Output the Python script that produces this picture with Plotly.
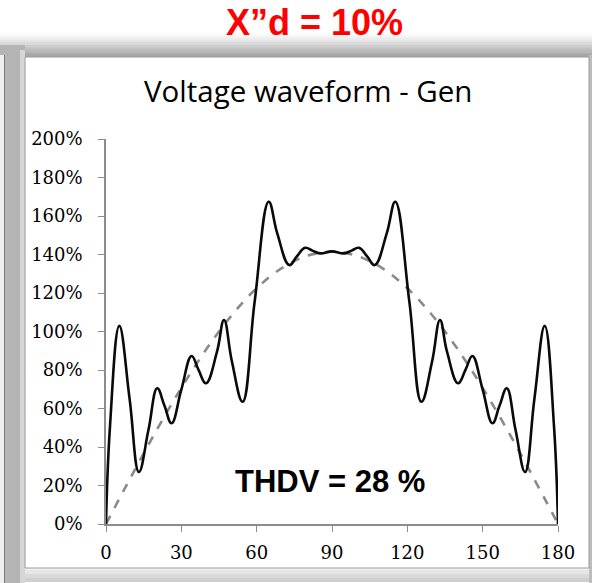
import plotly.graph_objects as go

# ---- data ----
wave_x = [0, 1.6, 5.3, 9.4, 13.1, 16.9, 20.4, 23.3, 26.1, 30.0, 34.1, 36.8, 39.8, 44.2, 47.0,
          50.1, 54.4, 59.2, 64.8, 68.2, 73.0, 76.0, 79.3, 82.2, 85.2, 90.0,
          94.8, 97.8, 100.7, 104.0, 107.0, 111.8, 115.2, 120.8, 125.6, 129.9, 133.0, 135.8,
          140.2, 143.2, 145.9, 150.0, 153.9, 156.7, 159.6, 163.1, 166.9, 170.6, 174.7, 178.4,
          180.0]
wave_y = [0, 51, 102.9, 65, 27, 48.8, 70.5, 61.4, 52.3, 69.8, 87.3, 80.2, 73.1, 89.5, 106,
          84.7, 63.5, 115.5, 167.4, 151, 134.5, 139, 143.5, 142, 140.6, 141.6,
          140.6, 142, 143.5, 139, 134.5, 151, 167.4, 115.5, 63.5, 84.7, 106, 89.5,
          73.1, 80.2, 87.3, 69.8, 52.3, 61.4, 70.5, 48.8, 27, 65, 102.9, 51,
          0]

ref_x = [0, 10, 20, 30, 40, 50, 60, 70, 80, 90, 100, 110, 120, 130, 140, 150, 160, 170, 180]
ref_y = [0, 24.6, 48.4, 70.7, 90.9, 108.3, 122.5, 132.9, 139.3, 141.4, 139.3, 132.9, 122.5,
         108.3, 90.9, 70.7, 48.4, 24.6, 0]

x_ticks = [0, 30, 60, 90, 120, 150, 180]
y_ticks = [0, 0.2, 0.4, 0.6, 0.8, 1.0, 1.2, 1.4, 1.6, 1.8, 2.0]

title_top = "X\u201dd = 10%"
chart_title = "Voltage waveform - Gen"
thd_label = "THDV = 28 %"

# ---- layout geometry ----
W, H = 592, 583
L, R, T, B = 106, 558, 139, 524


def px(x):
    return (x - L) / (R - L)


def py(y):
    return (B - y) / (B - T)


fig = go.Figure()
fig.add_trace(go.Scatter(x=ref_x, y=[v / 100 for v in ref_y], mode="lines",
                         line=dict(color="#8a8a8a", width=2.6, dash="dash", shape="spline"),
                         hoverinfo="skip", showlegend=False, cliponaxis=False))
fig.add_trace(go.Scatter(x=wave_x, y=[v / 100 for v in wave_y], mode="lines",
                         line=dict(color="#0a0a0a", width=2.6, shape="spline", smoothing=1.2),
                         showlegend=False, cliponaxis=False))

shapes = []
# top shadow gradient
grads = ["#fbfbfb", "#f4f4f4", "#ececec", "#e2e2e2", "#d8d8d8", "#cdcdcd", "#c2c2c2", "#b8b8b8", "#adadad", "#a4a4a4"]
y0 = 33
for i, c in enumerate(grads):
    shapes.append(dict(type="rect", xref="paper", yref="paper", layer="below",
                       x0=px(0), x1=px(W), y0=py(y0 + i * 2.4), y1=py(y0 + (i + 1) * 2.4 + 0.5),
                       fillcolor=c, line=dict(width=0)))
# left strip
shapes.append(dict(type="rect", xref="paper", yref="paper", layer="below",
                   x0=px(0), x1=px(25), y0=py(45), y1=py(H), fillcolor="#b4b4b4", line=dict(width=0)))
shapes.append(dict(type="rect", xref="paper", yref="paper", layer="below",
                   x0=px(0), x1=px(4), y0=py(55), y1=py(H), fillcolor="#efefef", line=dict(width=0)))
shapes.append(dict(type="rect", xref="paper", yref="paper", layer="below",
                   x0=px(4), x1=px(5), y0=py(55), y1=py(H), fillcolor="#7a7a7a", line=dict(width=0)))
shapes.append(dict(type="rect", xref="paper", yref="paper", layer="below",
                   x0=px(20), x1=px(25), y0=py(50), y1=py(H), fillcolor="#d6d6d6", line=dict(width=0)))
# bottom strip
for i, c in enumerate(["#f2f2f2", "#e6e6e6", "#dadada", "#cfcfcf"]):
    shapes.append(dict(type="rect", xref="paper", yref="paper", layer="below",
                       x0=px(25), x1=px(W), y0=py(566 + i * 4), y1=py(566 + (i + 1) * 4),
                       fillcolor=c, line=dict(width=0)))
# right strip
shapes.append(dict(type="rect", xref="paper", yref="paper", layer="below",
                   x0=px(589), x1=px(W), y0=py(55), y1=py(H), fillcolor="#bdbdbd", line=dict(width=0)))
# white chart panel
shapes.append(dict(type="rect", xref="paper", yref="paper", layer="below",
                   x0=px(25), x1=px(589), y0=py(57), y1=py(568),
                   fillcolor="white", line=dict(color="#9a9a9a", width=1)))

annotations = [
    dict(text=title_top, x=px(314), y=py(23), xref="paper", yref="paper", showarrow=False,
         font=dict(family="Liberation Sans, Arial", size=36, color="#ff0000", weight="bold"),
         xanchor="center", yanchor="middle"),
    dict(text=chart_title, x=px(308), y=py(91), xref="paper", yref="paper", showarrow=False,
         font=dict(family="Open Sans", size=29.5, color="#000000", weight=500),
         xanchor="center", yanchor="middle"),
    dict(text=thd_label, x=px(330), y=py(481), xref="paper", yref="paper", showarrow=False,
         font=dict(family="Liberation Sans, Arial", size=31, color="#000000", weight="bold"),
         xanchor="center", yanchor="middle"),
]

tickfont = dict(family="DejaVu Serif", size=18, color="#000000")

fig.update_layout(
    width=W, height=H,
    margin=dict(l=L, r=W - R, t=T, b=H - B),
    paper_bgcolor="white", plot_bgcolor="rgba(0,0,0,0)",
    shapes=shapes, annotations=annotations, showlegend=False,
    xaxis=dict(range=[0, 180], tickvals=x_ticks, ticktext=[str(v) for v in x_ticks],
               showgrid=False, zeroline=False, showline=True, linecolor="#8c8c8c", linewidth=1.5,
               ticks="outside", ticklen=6, tickcolor="#8c8c8c", tickfont=tickfont,
               ticklabelstandoff=6),
    yaxis=dict(range=[0, 2.0], tickvals=y_ticks, tickformat=".0%",
               showgrid=False, zeroline=False, showline=True, linecolor="#8c8c8c", linewidth=1.5,
               ticks="outside", ticklen=6, tickcolor="#8c8c8c", tickfont=tickfont,
               ticklabelstandoff=12),
)

fig.write_html("out.html", config={"displayModeBar": False},
               post_script="document.body.style.margin='0';document.body.style.overflow='hidden';")
